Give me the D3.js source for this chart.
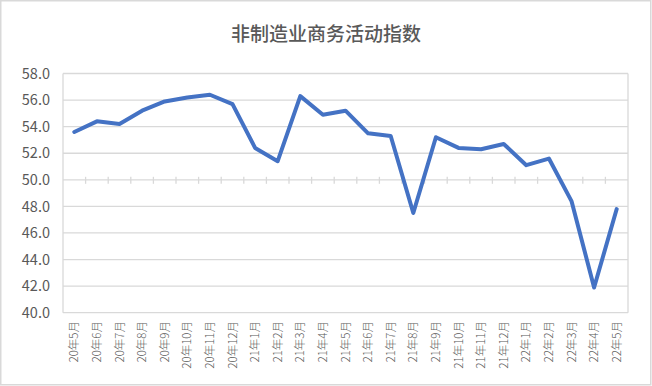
<!DOCTYPE html>
<html>
  <head>
    <meta charset="utf-8">
    <title>非制造业商务活动指数</title>
    <script src="https://cdn.jsdelivr.net/npm/d3@7"></script>
    <style type="text/css">
      body { margin: 0; background: #fff; }
      text { font-family: "Noto Sans CJK SC", "Liberation Sans", sans-serif; fill: #595959; }
    </style>
  </head>
  <body>
    <script>
    //Chart data
    var months = ["20年5月", "20年6月", "20年7月", "20年8月", "20年9月", "20年10月", "20年11月", "20年12月",
                  "21年1月", "21年2月", "21年3月", "21年4月", "21年5月", "21年6月", "21年7月", "21年8月",
                  "21年9月", "21年10月", "21年11月", "21年12月", "22年1月", "22年2月", "22年3月", "22年4月", "22年5月"];
    var index = [53.6, 54.4, 54.2, 55.2, 55.9, 56.2, 56.4, 55.7,
                 52.4, 51.4, 56.3, 54.9, 55.2, 53.5, 53.3, 47.5,
                 53.2, 52.4, 52.3, 52.7, 51.1, 51.6, 48.4, 41.9, 47.8];
    var yTicks = [40, 42, 44, 46, 48, 50, 52, 54, 56, 58];

    //Width and height
    var svgWidth = 652;
    var svgHeight = 386;
    var plotLeft = 63, plotRight = 628, plotTop = 73.5, plotBottom = 312.7;

    var svg = d3.select("body")
      .append("svg")
        .attr("width", svgWidth)
        .attr("height", svgHeight);

    //Outer frame
    svg.append("rect")
      .attr("x", 0.75).attr("y", 0.75)
      .attr("width", svgWidth - 2).attr("height", svgHeight - 2)
      .attr("fill", "#fff")
      .attr("stroke", "#d9d9d9")
      .attr("stroke-width", 1.5);

    //Title
    svg.append("text")
      .attr("x", 326).attr("y", 41)
      .attr("text-anchor", "middle")
      .attr("font-size", "19px")
      .attr("font-weight", 500)
      .text("非制造业商务活动指数");

    //Scales
    var xScale = d3.scaleBand()
      .domain(months)
      .range([plotLeft, plotRight]);

    var yScale = d3.scaleLinear()
      .domain([40, 58])
      .range([plotBottom, plotTop]);

    //Horizontal gridlines
    svg.selectAll("line.grid")
      .data(yTicks)
      .enter()
      .append("line")
      .attr("class", "grid")
      .attr("x1", plotLeft).attr("x2", plotRight)
      .attr("y1", function(d) { return yScale(d); })
      .attr("y2", function(d) { return yScale(d); })
      .attr("stroke", "#d9d9d9")
      .attr("stroke-width", 1.3);

    //Left and right edges of plot
    svg.selectAll("line.edge")
      .data([plotLeft, plotRight])
      .enter()
      .append("line")
      .attr("class", "edge")
      .attr("x1", function(d) { return d; }).attr("x2", function(d) { return d; })
      .attr("y1", plotTop).attr("y2", plotBottom)
      .attr("stroke", "#d9d9d9")
      .attr("stroke-width", 1.3);

    //Y axis labels
    svg.selectAll("text.ylab")
      .data(yTicks)
      .enter()
      .append("text")
      .attr("class", "ylab")
      .attr("x", 50)
      .attr("y", function(d) { return yScale(d); })
      .attr("dy", "0.36em")
      .attr("text-anchor", "end")
      .attr("font-size", "14.5px")
      .text(function(d) { return d.toFixed(1); });

    //Category axis at 50 with tick marks between months
    var axisY = yScale(50);
    svg.selectAll("line.tick")
      .data(months.slice(1))
      .enter()
      .append("line")
      .attr("class", "tick")
      .attr("x1", function(d) { return xScale(d); })
      .attr("x2", function(d) { return xScale(d); })
      .attr("y1", axisY - 3).attr("y2", axisY + 4)
      .attr("stroke", "#d9d9d9")
      .attr("stroke-width", 1.3);

    //X labels, rotated
    svg.selectAll("text.xlab")
      .data(months)
      .enter()
      .append("text")
      .attr("class", "xlab")
      .attr("transform", function(d) {
        return "translate(" + (xScale(d) + xScale.bandwidth() / 2 + 4) + ",321) rotate(-90)";
      })
      .attr("text-anchor", "end")
      .attr("font-size", "11.5px")
      .attr("font-weight", 300)
      .text(function(d) { return d; });

    //Line
    var line = d3.line()
      .x(function(d, i) { return xScale(months[i]) + xScale.bandwidth() / 2; })
      .y(function(d) { return yScale(d); });

    svg.append("path")
      .datum(index)
      .attr("d", line)
      .attr("fill", "none")
      .attr("stroke", "#4472c4")
      .attr("stroke-width", 4)
      .attr("stroke-linejoin", "round")
      .attr("stroke-linecap", "round");
    </script>
  </body>
</html>
